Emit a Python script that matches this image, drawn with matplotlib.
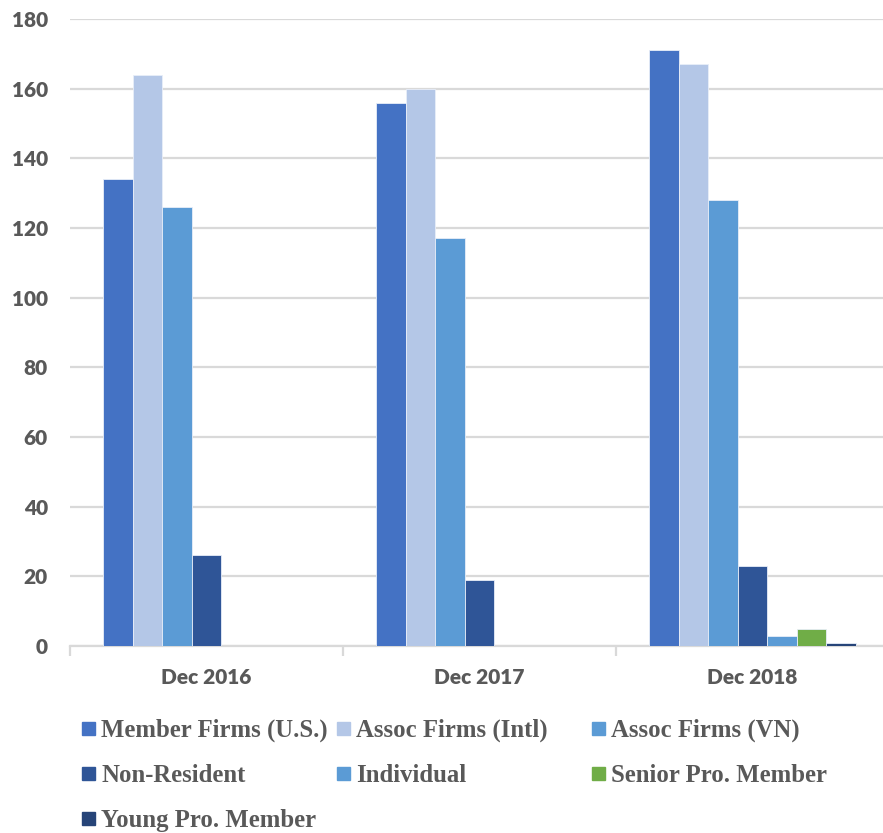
import numpy as np
import matplotlib
matplotlib.use("Agg")
import matplotlib.pyplot as plt
from matplotlib.patches import Rectangle

"""Chart data"""
periods = ["Dec 2016", "Dec 2017", "Dec 2018"]
series = ["Member Firms (U.S.)", "Assoc Firms (Intl)", "Assoc Firms (VN)",
          "Non-Resident", "Individual", "Senior Pro. Member", "Young Pro. Member"]
member_us = [134, 156, 171]
assoc_intl = [164, 160, 167]
assoc_vn = [126, 117, 128]
non_resident = [26, 19, 23]
individual = [0, 0, 3]
senior_pro = [0, 0, 5]
young_pro = [0, 0, 1]
values = [member_us, assoc_intl, assoc_vn, non_resident, individual, senior_pro, young_pro]
colors = ["#4472C4", "#B4C7E7", "#5B9BD5", "#2F5597", "#5B9BD5", "#70AD47", "#264478"]
y_ticks = [0, 20, 40, 60, 80, 100, 120, 140, 160, 180]

grey = "#595959"
grid_grey = "#D9D9D9"

fig = plt.figure(figsize=(8.83, 8.33), dpi=100)
ax = fig.add_axes([70 / 883, 187 / 833, 819 / 883, 627 / 833])

"""Bars"""
x = np.arange(len(periods))
w = 0.1084
for i, (name, vals, c) in enumerate(zip(series, values, colors)):
    ax.bar(x + (i - 3) * w, vals, width=w, color=c, edgecolor="#E8EEF8",
           linewidth=0.6, zorder=3, label=name)

"""Axes styling"""
ax.set_xlim(-0.5, 2.5)
ax.set_ylim(0, 180)
ax.set_yticks(y_ticks)
ax.yaxis.grid(True, color=grid_grey, linewidth=1.6, zorder=0)
ax.set_axisbelow(True)
for s in ["top", "right", "left"]:
    ax.spines[s].set_visible(False)
ax.spines["bottom"].set_color(grid_grey)
ax.spines["bottom"].set_linewidth(1.6)

ax.set_xticks(x)
ax.set_xticklabels(periods)
ax.set_xticks([-0.5, 0.5, 1.5, 2.5], minor=True)
ax.tick_params(axis="x", which="major", length=0, pad=16)
ax.tick_params(axis="x", which="minor", length=7, width=1.6, color=grid_grey)
ax.tick_params(axis="y", length=0, pad=16)
for lab in ax.get_xticklabels() + ax.get_yticklabels():
    lab.set_family("Lato")
    lab.set_fontweight("heavy")
    lab.set_fontsize(15)
    lab.set_color(grey)

"""Legend laid out row by row"""
col_x = [82, 337, 592]
row_y = [728, 773, 818]
for i, (name, c) in enumerate(zip(series, colors)):
    px = col_x[i % 3]
    py = row_y[i // 3]
    fig.patches.append(Rectangle((px / 883, 1 - (py + 6.5) / 833), 13 / 883, 13 / 833,
                                 transform=fig.transFigure, color=c, figure=fig))
    fig.text((px + 19) / 883, 1 - py / 833, name, ha="left", va="center_baseline",
             family="Liberation Serif", fontweight="bold", fontsize=17.8, color=grey)

plt.savefig("out.png", dpi=100)
